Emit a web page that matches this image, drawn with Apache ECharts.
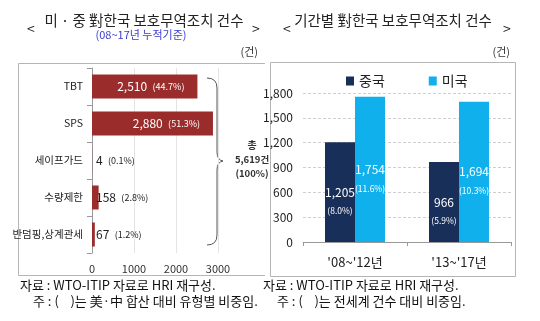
<!DOCTYPE html>
<html>
<head>
<meta charset="utf-8">
<script src="https://cdn.jsdelivr.net/npm/echarts@6/dist/echarts.min.js"></script>
<style>
  html, body { margin: 0; padding: 0; background: #fff; }
  #chart { width: 540px; height: 321px; }
</style>
</head>
<body>
<div id="chart"></div>
<script>
// Protective trade measures against Korea, by type (US + China, 2008-2017)
const measureTypes = ['TBT', 'SPS', '세이프가드', '수량제한', '반덤핑,상계관세'];
const measureCounts = [2510, 2880, 4, 158, 67];
const measureShares = ['44.7%', '51.3%', '0.1%', '2.8%', '1.2%'];
const typeAxisTicks = [0, 1000, 2000, 3000];

// Measures by period and country
const periods = ["'08~'12년", "'13~'17년"];
const chinaCounts = [1205, 966];
const usCounts = [1754, 1694];
const chinaShares = ['8.0%', '5.9%'];
const usShares = ['11.6%', '10.3%'];
const periodAxisTicks = [0, 300, 600, 900, 1200, 1500, 1800];

const FONT = '"Noto Sans CJK KR", "Noto Sans", sans-serif';
const fmt = v => v.toLocaleString('en-US');

const chart = echarts.init(document.getElementById('chart'), null, { renderer: 'canvas' });

const typeData = measureCounts.map((v, i) => {
  const big = v > 1000;
  return {
    value: v,
    label: {
      show: true,
      position: big ? 'insideRight' : 'insideLeft',
      distance: big ? 13 : 4,
      formatter: () => '{v|' + fmt(v) + '}  {p|(' + measureShares[i] + ')}',
      rich: {
        v: { fontSize: 12, color: big ? '#fff' : '#222', fontFamily: FONT },
        p: { fontSize: 9, color: big ? '#fff' : '#222', fontFamily: FONT }
      }
    }
  };
});

const periodLabel = shares => ({
  show: true,
  position: 'inside',
  offset: [0, 8],
  formatter: p => '{v|' + fmt(p.value) + '}\n{p|(' + shares[p.dataIndex] + ')}',
  rich: {
    v: { fontSize: 12, color: '#fff', fontFamily: FONT, lineHeight: 22, align: 'center' },
    p: { fontSize: 8.5, color: '#fff', fontFamily: FONT, lineHeight: 16, align: 'center' }
  }
});

const braceStyle = { stroke: '#555', lineWidth: 1, fill: null };
const curve = (x1, y1, cx, cy, x2, y2) => ({
  type: 'bezierCurve', silent: true,
  shape: { x1, y1, cpx1: cx, cpy1: cy, x2, y2 }, style: braceStyle
});
const seg = (x1, y1, x2, y2) => ({
  type: 'line', silent: true, shape: { x1, y1, x2, y2 }, style: braceStyle
});
const note = (x, y, text) => ({
  type: 'text', x, y, silent: true,
  style: { text, font: '13px ' + FONT, fill: '#111', textVerticalAlign: 'middle' }
});

const option = {
  animation: false,
  textStyle: { fontFamily: FONT },
  legend: {
    data: ['중국', '미국'],
    top: 69,
    left: 341,
    itemWidth: 8,
    itemHeight: 9,
    itemGap: 44,
    icon: 'rect',
    textStyle: { fontSize: 14, color: '#222', fontFamily: FONT }
  },
  grid: [
    { left: 92, right: 540 - 218, top: 68, bottom: 321 - 253 },
    { left: 303, right: 540 - 511, top: 93, bottom: 321 - 242 }
  ],
  xAxis: [
    {
      gridIndex: 0,
      type: 'value',
      min: typeAxisTicks[0],
      max: typeAxisTicks[typeAxisTicks.length - 1],
      interval: typeAxisTicks[1] - typeAxisTicks[0],
      axisLine: { show: false },
      axisTick: { show: false },
      axisLabel: { fontSize: 11, color: '#333', margin: 10, fontFamily: FONT, formatter: v => String(v) },
      splitLine: { show: true, lineStyle: { color: '#e4e4e4', width: 1 } }
    },
    {
      gridIndex: 1,
      type: 'category',
      data: periods,
      axisLine: { show: true, lineStyle: { color: '#999' } },
      axisTick: { show: true, alignWithLabel: false, length: 4, lineStyle: { color: '#999' } },
      axisLabel: { fontSize: 13, color: '#222', margin: 14, fontFamily: FONT }
    }
  ],
  yAxis: [
    {
      gridIndex: 0,
      type: 'category',
      data: measureTypes,
      inverse: true,
      axisLine: { show: true, lineStyle: { color: '#999' } },
      axisTick: { show: true, length: 5, lineStyle: { color: '#999' } },
      axisLabel: { fontSize: 10.5, color: '#222', margin: 9, fontFamily: FONT }
    },
    {
      gridIndex: 1,
      type: 'value',
      min: periodAxisTicks[0],
      max: periodAxisTicks[periodAxisTicks.length - 1],
      interval: periodAxisTicks[1] - periodAxisTicks[0],
      axisLine: { show: false },
      axisTick: { show: false },
      axisLabel: { fontSize: 12, color: '#222', margin: 10, fontFamily: FONT, formatter: v => fmt(v) },
      splitLine: { show: true, lineStyle: { color: '#cfcfcf', type: [3, 2] } }
    }
  ],
  series: [
    {
      name: '유형별',
      type: 'bar',
      xAxisIndex: 0,
      yAxisIndex: 0,
      barWidth: 24,
      itemStyle: { color: '#9b2c2c' },
      data: typeData
    },
    {
      name: '중국',
      type: 'bar',
      xAxisIndex: 1,
      yAxisIndex: 1,
      barWidth: 30,
      barGap: '0%',
      itemStyle: { color: '#182f59' },
      label: periodLabel(chinaShares),
      data: chinaCounts
    },
    {
      name: '미국',
      type: 'bar',
      xAxisIndex: 1,
      yAxisIndex: 1,
      barWidth: 30,
      barGap: '0%',
      itemStyle: { color: '#0fb0ec' },
      label: periodLabel(usShares),
      data: usCounts
    }
  ],
  graphic: [
    // panel frames
    { type: 'polyline', silent: true, shape: { points: [[265, 63.5], [18.5, 63.5], [18.5, 275.5], [265, 275.5]] },
      style: { stroke: '#b5b5b5', lineWidth: 1, fill: null } },
    { type: 'rect', silent: true, shape: { x: 270.5, y: 62.5, width: 245, height: 214 },
      style: { stroke: '#b5b5b5', lineWidth: 1, fill: null } },

    // left heading
    { type: 'text', x: 27, y: 29, style: { text: '<', font: '14px ' + FONT, fill: '#222', textVerticalAlign: 'middle' } },
    { type: 'text', x: 144, y: 20, style: { text: '미 · 중 對한국 보호무역조치 건수', font: '14.5px ' + FONT, fill: '#222', textAlign: 'center', textVerticalAlign: 'middle' } },
    { type: 'text', x: 252, y: 29, style: { text: '>', font: '14px ' + FONT, fill: '#222', textVerticalAlign: 'middle' } },
    { type: 'text', x: 141, y: 35, style: { text: '(08~17년 누적기준)', font: '11px ' + FONT, fill: '#3a3ad0', textAlign: 'center', textVerticalAlign: 'middle' } },
    { type: 'text', x: 258, y: 52, style: { text: '(건)', font: '11px ' + FONT, fill: '#333', textAlign: 'right', textVerticalAlign: 'middle' } },

    // right heading
    { type: 'text', x: 283, y: 29, style: { text: '<', font: '14px ' + FONT, fill: '#222', textVerticalAlign: 'middle' } },
    { type: 'text', x: 393, y: 20, style: { text: '기간별 對한국 보호무역조치 건수', font: '14.5px ' + FONT, fill: '#222', textAlign: 'center', textVerticalAlign: 'middle' } },
    { type: 'text', x: 503, y: 29, style: { text: '>', font: '14px ' + FONT, fill: '#222', textVerticalAlign: 'middle' } },
    { type: 'text', x: 510, y: 52, style: { text: '(건)', font: '11px ' + FONT, fill: '#333', textAlign: 'right', textVerticalAlign: 'middle' } },

    // total brace
    curve(207, 78, 217, 78, 217, 88),
    seg(217, 88, 217, 152),
    curve(217, 152, 217, 160, 223, 161),
    curve(223, 161, 217, 162, 217, 170),
    seg(217, 170, 217, 235),
    curve(217, 235, 217, 245, 207, 245),
    { type: 'text', x: 252, y: 145, style: { text: '총', font: 'bold 10px ' + FONT, fill: '#333', textAlign: 'center', textVerticalAlign: 'middle' } },
    { type: 'text', x: 252, y: 159, style: { text: '5,619건', font: 'bold 9.5px ' + FONT, fill: '#333', textAlign: 'center', textVerticalAlign: 'middle' } },
    { type: 'text', x: 252, y: 173, style: { text: '(100%)', font: 'bold 9.5px ' + FONT, fill: '#333', textAlign: 'center', textVerticalAlign: 'middle' } },

    // source notes
    note(20, 285, '자료 : WTO-ITIP 자료로 HRI 재구성.'),
    note(33, 301, '주 : (    )는 美·中 합산 대비 유형별 비중임.'),
    note(263, 285, '자료 : WTO-ITIP 자료로 HRI 재구성.'),
    note(277, 301, '주 : (    )는 전세계 건수 대비 비중임.')
  ]
};

chart.setOption(option);
</script>
</body>
</html>
